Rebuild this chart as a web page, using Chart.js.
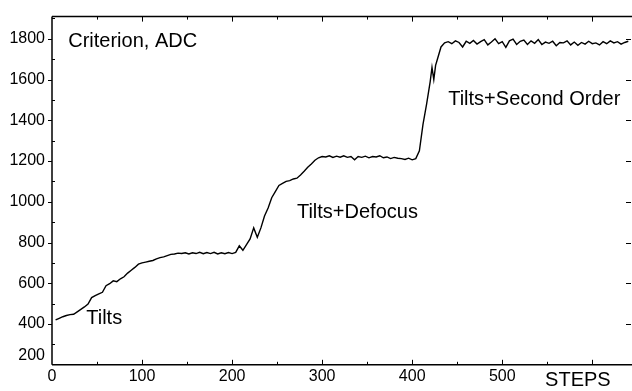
<!DOCTYPE html>
<html>
<head>
<meta charset="utf-8">
<script src="https://cdn.jsdelivr.net/npm/chart.js@4/dist/chart.umd.min.js"></script>
<style>
html,body{margin:0;padding:0;background:#fff;}
#wrap{width:632px;height:391px;position:relative;}
</style>
</head>
<body>
<div id="wrap"><canvas id="c" width="632" height="391"></canvas></div>
<script>
// ---- data ----
const steps = [4,8,12,16,20,24,28,32,36,40,44,48,52,56,60,64,68,72,76,80,84,88,92,96,100,
  104,108,112,116,120,124,128,132,136,140,144,148,152,156,160,164,168,172,176,180,184,188,192,196,200,
  204,208,212,216,220,224,228,232,236,240,244,248,252,256,260,264,268,272,276,280,284,288,292,296,300,
  304,308,312,316,320,324,328,332,336,340,344,348,352,356,360,364,368,372,376,380,384,388,392,396,400,
  404,408,412,416,420,422,424,426,428,432,436,440,444,448,452,456,460,464,468,472,476,480,484,488,492,496,500,
  504,508,512,516,520,524,528,532,536,540,544,548,552,556,560,564,568,572,576,580,584,588,592,596,600,
  604,608,612,616,620,624,628,632,636,640];
const criterion = [420,428,436,442,446,448,460,472,484,498,530,540,548,556,588,598,612,608,622,632,650,664,678,694,700,
  704,708,712,720,726,730,736,742,744,748,746,750,744,750,746,752,745,751,746,752,744,750,745,751,746,
  752,784,762,790,818,872,826,872,930,970,1020,1050,1080,1090,1100,1104,1112,1116,1132,1150,1170,1186,1204,1216,1222,
  1220,1226,1218,1224,1219,1226,1218,1222,1206,1222,1218,1224,1216,1222,1220,1226,1216,1220,1212,1218,1214,1212,1208,1214,1206,
  1212,1250,1380,1480,1590,1660,1600,1670,1700,1760,1780,1786,1776,1790,1782,1760,1788,1778,1792,1774,1786,1796,1770,1784,1800,1776,1786,
  1758,1790,1798,1772,1788,1794,1772,1790,1778,1796,1772,1784,1778,1788,1766,1782,1780,1790,1770,1784,1768,1782,1774,1788,1776,
  1780,1770,1786,1776,1790,1780,1786,1774,1782,1788];
const xTickLabels = [0,100,200,300,400,500,600];
const yTickLabels = [200,400,600,800,1000,1200,1400,1600,1800];
const annotations = [
  {text:'Criterion, ADC', x:18, y:1762, align:'left'},
  {text:'Tilts', x:38, y:401, align:'left'},
  {text:'Tilts+Defocus', x:272, y:922, align:'left'},
  {text:'Tilts+Second Order', x:440, y:1477, align:'left'},
  {text:'STEPS', x:584, y:98, align:'center'}
];

const FONT = '"Liberation Sans", Arial, Helvetica, sans-serif';

const framePlugin = {
  id:'frame',
  beforeDatasetsDraw(chart){
    const {ctx, chartArea:a, scales:{x, y}} = chart;
    const W = chart.width;
    ctx.save();
    ctx.strokeStyle = '#000';
    ctx.lineWidth = 1.5;
    ctx.beginPath();
    ctx.moveTo(a.left, a.top); ctx.lineTo(W, a.top);
    ctx.moveTo(a.left, a.top); ctx.lineTo(a.left, a.bottom);
    ctx.moveTo(a.left, a.bottom); ctx.lineTo(W, a.bottom);
    ctx.stroke();
    ctx.lineWidth = 1;
    ctx.beginPath();
    // x ticks (major inside, minor inside shorter) bottom and top
    for (let v = 50; v <= x.max; v += 50){
      const px = Math.round(x.getPixelForValue(v)) + 0.5;
      const len = (v % 100 === 0) ? 5 : 3;
      ctx.moveTo(px, a.bottom); ctx.lineTo(px, a.bottom - len);
      ctx.moveTo(px, a.top); ctx.lineTo(px, a.top + len);
    }
    // y ticks
    for (let v = 300; v <= y.max; v += 100){
      const py = Math.round(y.getPixelForValue(v)) + 0.5;
      if (v % 200 === 0){
        ctx.moveTo(a.left, py); ctx.lineTo(a.left - 4, py);
        ctx.moveTo(a.right, py); ctx.lineTo(a.right - 5, py);
      } else {
        ctx.moveTo(a.left, py); ctx.lineTo(a.left + 3, py);
      }
    }
    ctx.stroke();
    ctx.restore();
  },
  afterDatasetsDraw(chart){
    const {ctx, scales:{x, y}} = chart;
    ctx.save();
    ctx.fillStyle = '#000';
    ctx.font = '20px ' + FONT;
    ctx.textBaseline = 'alphabetic';
    for (const an of annotations){
      ctx.textAlign = an.align;
      ctx.fillText(an.text, x.getPixelForValue(an.x), y.getPixelForValue(an.y));
    }
    ctx.restore();
  }
};

const points = steps.map((s, i) => ({x:s, y:criterion[i]}));

new Chart(document.getElementById('c'), {
  type:'line',
  data:{datasets:[{data:points, borderColor:'#000', borderWidth:1.4, pointRadius:0, tension:0, fill:false}]},
  options:{
    responsive:false, animation:false, events:[],
    layout:{padding:{top:9, right:1, left:0, bottom:0}},
    plugins:{legend:{display:false}, tooltip:{enabled:false}},
    scales:{
      x:{type:'linear', min:0, max:643,
        afterFit(s){ s.height = 23; },
        afterBuildTicks(s){ s.ticks = xTickLabels.map(v => ({value:v})); },
        grid:{display:true, drawOnChartArea:false, drawTicks:false, color:'rgba(0,0,0,0)'},
        border:{display:false},
        ticks:{color:'#000', font:{size:16, family:FONT}, padding:2, maxRotation:0, autoSkip:false,
          callback:(v) => (v === 600 ? '' : String(v))}
      },
      y:{type:'linear', min:200, max:1909,
        afterFit(s){ s.width = 52; },
        afterBuildTicks(s){ s.ticks = yTickLabels.map(v => ({value:v})); },
        grid:{display:true, drawOnChartArea:false, drawTicks:false, color:'rgba(0,0,0,0)'},
        border:{display:false},
        ticks:{color:'#000', font:{size:16, family:FONT}, padding:7, autoSkip:false,
          callback:(v) => (v === 200 ? ['200',''] : String(v))}
      }
    }
  },
  plugins:[framePlugin]
});
</script>
</body>
</html>
